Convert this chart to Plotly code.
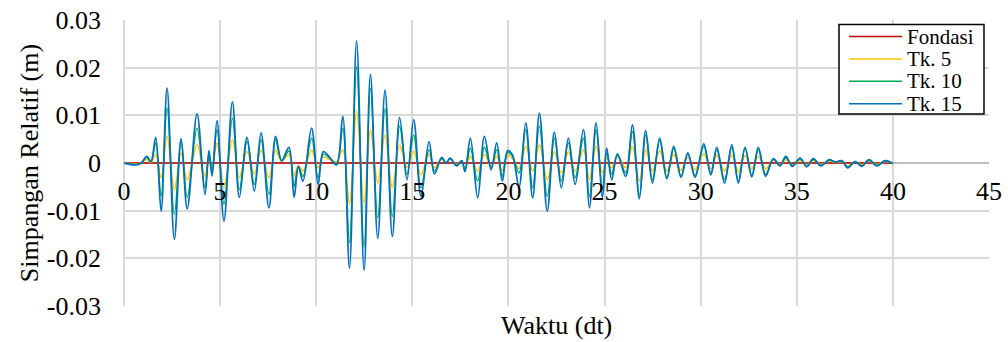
import plotly.graph_objects as go

# ---- data ----
t = [0.0, 0.6, 0.9, 1.18, 1.4, 1.65, 1.93, 2.24, 2.62, 2.97, 3.29, 3.80, 4.21, 4.42, 4.58, 4.84,
     5.20, 5.64, 6.00, 6.40, 6.78, 7.13, 7.54, 7.89, 8.20, 8.58, 8.85, 9.07, 9.31, 9.76, 10.10,
     10.37, 10.70, 11.06, 11.38, 11.73, 12.10, 12.49, 12.82, 13.20, 13.58, 13.96, 14.34, 14.72,
     15.07, 15.45, 15.87, 16.15, 16.53, 16.75, 16.96, 17.31, 17.57, 17.74, 18.02, 18.40, 18.75,
     19.10, 19.39, 19.68, 19.96, 20.20, 20.55, 20.90, 21.26, 21.61, 22.02, 22.39, 22.75, 23.12,
     23.47, 23.90, 24.21, 24.56, 24.89, 25.11, 25.37, 25.67, 26.10, 26.45, 26.81, 27.14, 27.49,
     27.87, 28.24, 28.60, 28.98, 29.33, 29.71, 30.16, 30.53, 30.84, 31.24, 31.62, 31.96, 32.31,
     32.66, 33.00, 33.38, 33.78, 34.13, 34.43, 34.77, 35.17, 35.52, 35.86, 36.26, 36.68, 37.00,
     37.34, 37.65, 38.03, 38.38, 38.76, 39.16, 39.59, 40.00]

tk15 = [0.0, -0.0004, 0.0, 0.0014, 0.0003, 0.0054, -0.0101, 0.0157, -0.0160, 0.0051, -0.0096, 0.0103,
        -0.0066, 0.0026, -0.0027, 0.0089, -0.0122, 0.0128, -0.0072, 0.0054, -0.0059, 0.0063, -0.0094,
        0.0056, 0.0005, 0.0033, -0.0072, -0.0007, -0.0038, 0.0073, -0.0045, 0.0024, 0.0012, -0.0004,
        0.0098, -0.0221, 0.0256, -0.0225, 0.0186, -0.0158, 0.0153, -0.0154, 0.0095, -0.0035, 0.0091,
        -0.0070, 0.0045, -0.0023, 0.0012, -0.0001, 0.0010, -0.0006, 0.0005, -0.0018, 0.0052, -0.0073,
        0.0056, -0.0014, 0.0042, -0.0038, 0.0026, 0.0018, -0.0050, 0.0084, -0.0073, 0.0104, -0.0101,
        0.0065, -0.0052, 0.0052, -0.0045, 0.0070, -0.0094, 0.0084, -0.0073, 0.0031, -0.0035, 0.0019,
        -0.0028, 0.0080, -0.0075, 0.0068, -0.0042, 0.0052, -0.0033, 0.0035, -0.0030, 0.0021, -0.0030,
        0.0040, -0.0025, 0.0033, -0.0042, 0.0038, -0.0042, 0.0033, -0.0029, 0.0033, -0.0028, 0.0009,
        -0.0006, 0.0014, -0.0007, 0.0010, -0.0008, 0.0009, -0.0006, 0.0007, 0.0002, 0.0005, -0.0010,
        0.0003, -0.0007, 0.0007, -0.0006, 0.0005, -0.0001]

tk10 = [0.0, -0.0003, 0.0, 0.0012, 0.0002, 0.0042, -0.0070, 0.0116, -0.0108, 0.0047, -0.0072, 0.0073,
        -0.0052, 0.0017, -0.0018, 0.0070, -0.0087, 0.0094, -0.0056, 0.0045, -0.0045, 0.0049, -0.0066,
        0.0049, 0.0004, 0.0025, -0.0049, -0.0008, -0.0028, 0.0052, -0.0031, 0.0019, 0.0010, -0.0002,
        0.0073, -0.0167, 0.0202, -0.0177, 0.0157, -0.0115, 0.0114, -0.0112, 0.0077, -0.0024, 0.0059,
        -0.0052, 0.0028, -0.0017, 0.0010, 0.0000, 0.0009, -0.0005, 0.0004, -0.0015, 0.0031, -0.0038,
        0.0033, -0.0010, 0.0028, -0.0028, 0.0022, 0.0015, -0.0021, 0.0070, -0.0052, 0.0077, -0.0070,
        0.0052, -0.0038, 0.0042, -0.0031, 0.0052, -0.0070, 0.0070, -0.0056, 0.0021, -0.0024, 0.0017,
        -0.0021, 0.0066, -0.0070, 0.0059, -0.0035, 0.0047, -0.0031, 0.0031, -0.0028, 0.0019, -0.0026,
        0.0035, -0.0021, 0.0028, -0.0035, 0.0033, -0.0038, 0.0031, -0.0026, 0.0028, -0.0024, 0.0008,
        -0.0005, 0.0011, -0.0006, 0.0009, -0.0007, 0.0008, -0.0005, 0.0006, 0.0002, 0.0004, -0.0009,
        0.0003, -0.0006, 0.0006, -0.0005, 0.0004, -0.0001]

tk5 = [0.0, -0.0002, 0.0, 0.0008, 0.0001, 0.0018, -0.0031, 0.0056, -0.0056, 0.0021, -0.0035, 0.0038,
       -0.0028, 0.0010, -0.0010, 0.0042, -0.0052, 0.0049, -0.0031, 0.0024, -0.0023, 0.0027, -0.0031,
       0.0027, 0.0004, 0.0018, -0.0026, -0.0005, -0.0017, 0.0027, -0.0010, 0.0013, 0.0007, 0.0003,
       0.0028, -0.0087, 0.0109, -0.0083, 0.0070, -0.0042, 0.0059, -0.0052, 0.0038, -0.0010, 0.0024,
       -0.0024, 0.0018, -0.0010, 0.0009, 0.0001, 0.0008, -0.0003, 0.0004, -0.0010, 0.0014, -0.0017,
       0.0018, -0.0006, 0.0014, -0.0016, 0.0016, 0.0010, -0.0012, 0.0035, -0.0017, 0.0038, -0.0035,
       0.0024, -0.0021, 0.0024, -0.0017, 0.0028, -0.0035, 0.0035, -0.0021, 0.0010, -0.0010, 0.0014,
       -0.0010, 0.0035, -0.0038, 0.0028, -0.0017, 0.0026, -0.0017, 0.0018, -0.0015, 0.0012, -0.0014,
       0.0019, -0.0012, 0.0017, -0.0017, 0.0017, -0.0019, 0.0015, -0.0012, 0.0014, -0.0012, 0.0006,
       -0.0003, 0.0007, -0.0004, 0.0005, -0.0004, 0.0005, -0.0003, 0.0004, 0.0001, 0.0003, -0.0006,
       0.0002, -0.0004, 0.0004, -0.0003, 0.0003, 0.0]

t_fondasi = [0.0, 40.0]
fondasi = [0.0, 0.0]

series_names = ["Fondasi", "Tk. 5", "Tk. 10", "Tk. 15"]
series_colors = ["#C00000", "#FFC000", "#00B050", "#0070C0"]
x_tickvals = [0, 5, 10, 15, 20, 25, 30, 35, 40, 45]
x_ticktext = ["0", "5", "10", "15", "20", "25", "30", "35", "40", "45"]
y_tickvals = [-0.03, -0.02, -0.01, 0.0, 0.01, 0.02, 0.03]
y_ticktext = ["-0.03", "-0.02", "-0.01", "0", "0.01", "0.02", "0.03"]

FONT = "Liberation Serif"
GRID = "#D9D9D9"
W, H = 1008, 342
ML, MR, MT, MB = 124, 19, 20, 36
PW, PH = W - ML - MR, H - MT - MB


def px(xp):
    return (xp - ML) / PW


def py(yp):
    return (H - MB - yp) / PH


fig = go.Figure()
xs = [t_fondasi, t, t, t]
ys = [fondasi, tk5, tk10, tk15]
widths = [1.5, 1.5, 1.5, 1.75]
for i in range(4):
    line = dict(color=series_colors[i], width=widths[i])
    if i > 0:
        line.update(shape="spline", smoothing=1.0)
    fig.add_trace(go.Scatter(x=xs[i], y=ys[i], name=series_names[i], mode="lines",
                             line=line, showlegend=False))

# legend box (Excel-style, tight rows)
shapes = [dict(type="rect", xref="paper", yref="paper",
               x0=px(839), x1=px(984), y0=py(114), y1=py(24.5),
               line=dict(color="black", width=1.5), fillcolor="white", layer="above")]
annotations = []
for i in range(4):
    yrow = 36.5 + 22.4 * i
    shapes.append(dict(type="line", xref="paper", yref="paper",
                       x0=px(849), x1=px(902), y0=py(yrow), y1=py(yrow),
                       line=dict(color=series_colors[i], width=1.5), layer="above"))
    annotations.append(dict(text=series_names[i], xref="paper", yref="paper",
                            x=px(905), y=py(yrow), xanchor="left", yanchor="middle",
                            showarrow=False, font=dict(family=FONT, size=21, color="black")))

annotations.append(dict(text="Waktu (dt)", xref="paper", yref="paper", x=0.5, y=0,
                        xanchor="center", yanchor="top", yshift=-3, showarrow=False,
                        font=dict(family=FONT, size=26, color="black")))

fig.update_layout(
    width=W, height=H,
    margin=dict(l=ML, r=MR, t=MT, b=MB, autoexpand=False),
    paper_bgcolor="white", plot_bgcolor="white",
    font=dict(family=FONT, size=26, color="black"),
    showlegend=False,
    xaxis=dict(range=[0, 45], tickvals=x_tickvals, ticktext=x_ticktext,
               showgrid=True, gridcolor=GRID, gridwidth=2,
               zeroline=True, zerolinecolor=GRID, zerolinewidth=2,
               showline=False, ticks="", anchor="free", position=0.5,
               ticklabelstandoff=10, tickfont=dict(family=FONT, size=26)),
    yaxis=dict(range=[-0.03, 0.03], tickvals=y_tickvals, ticktext=y_ticktext,
               showgrid=True, gridcolor=GRID, gridwidth=2,
               zeroline=True, zerolinecolor="#BFBFBF", zerolinewidth=1.5,
               showline=False, ticks="", ticklabelstandoff=22,
               tickfont=dict(family=FONT, size=26),
               title=dict(text="Simpangan Relatif (m)", font=dict(family=FONT, size=26),
                          standoff=0)),
    shapes=shapes,
    annotations=annotations,
)

fig.write_html("out.html")
